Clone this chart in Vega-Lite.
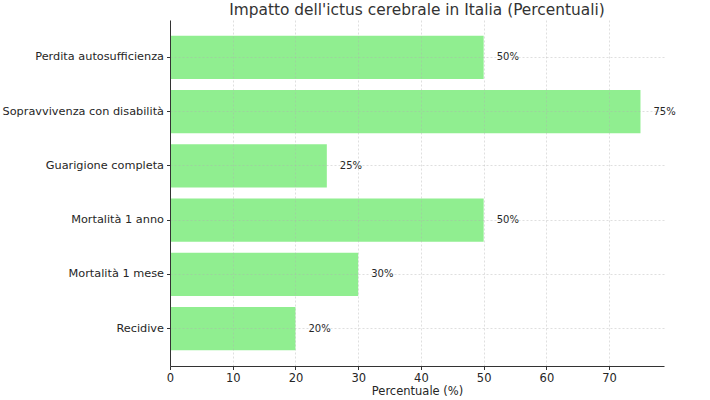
{
  "$schema": "https://vega.github.io/schema/vega-lite/v6.json",
  "width": 494,
  "height": 346,
  "autosize": {"type": "none"},
  "padding": {"left": 170, "top": 20, "right": 46, "bottom": 34},
  "background": "white",
  "config": {
    "view": {"stroke": null},
    "font": "DejaVu Sans"
  },
  "title": {
    "text": "Impatto dell'ictus cerebrale in Italia (Percentuali)",
    "fontSize": 15.4,
    "fontWeight": "normal",
    "color": "#333333",
    "font": "DejaVu Sans",
    "anchor": "middle",
    "offset": 2
  },
  "data": {
    "values": [
      {"categoria": "Perdita autosufficienza", "valore": 50},
      {"categoria": "Sopravvivenza con disabilità", "valore": 75},
      {"categoria": "Guarigione completa", "valore": 25},
      {"categoria": "Mortalità 1 anno", "valore": 50},
      {"categoria": "Mortalità 1 mese", "valore": 30},
      {"categoria": "Recidive", "valore": 20}
    ]
  },
  "encoding": {
    "y": {
      "field": "categoria",
      "type": "nominal",
      "sort": null,
      "scale": {"paddingInner": 0.2, "paddingOuter": 0.29},
      "axis": {
        "title": null,
        "labelFontSize": 11.3,
        "labelColor": "#262626",
        "labelPadding": 3,
        "tickSize": 3.5,
        "tickColor": "#333333",
        "domainColor": "#333333",
        "bandPosition": 0.5,
        "grid": true,
        "gridDash": [2, 2],
        "gridColor": "#b0b0b0",
        "gridOpacity": 0.5,
        "gridWidth": 0.8,
        "zindex": 1
      }
    },
    "x": {
      "field": "valore",
      "type": "quantitative",
      "scale": {"domain": [0, 78.75], "nice": false, "zero": true},
      "axis": {
        "title": "Percentuale (%)",
        "titleFontSize": 11.5,
        "titleFontWeight": "normal",
        "titleColor": "#262626",
        "titlePadding": 1,
        "labelFontSize": 11.5,
        "labelColor": "#262626",
        "labelPadding": 3,
        "labelFlush": false,
        "values": [0, 10, 20, 30, 40, 50, 60, 70],
        "tickSize": 3.5,
        "tickColor": "#333333",
        "domainColor": "#333333",
        "grid": true,
        "gridDash": [2, 2],
        "gridColor": "#b0b0b0",
        "gridOpacity": 0.5,
        "gridWidth": 0.8,
        "zindex": 1
      }
    }
  },
  "layer": [
    {
      "mark": {"type": "bar", "color": "#90EE90"}
    },
    {
      "transform": [{"calculate": "datum.valore + '%'", "as": "etichetta"}],
      "mark": {"type": "text", "align": "left", "baseline": "middle", "dx": 13, "fontSize": 10, "color": "#262626"},
      "encoding": {
        "text": {"field": "etichetta", "type": "nominal"}
      }
    }
  ]
}
